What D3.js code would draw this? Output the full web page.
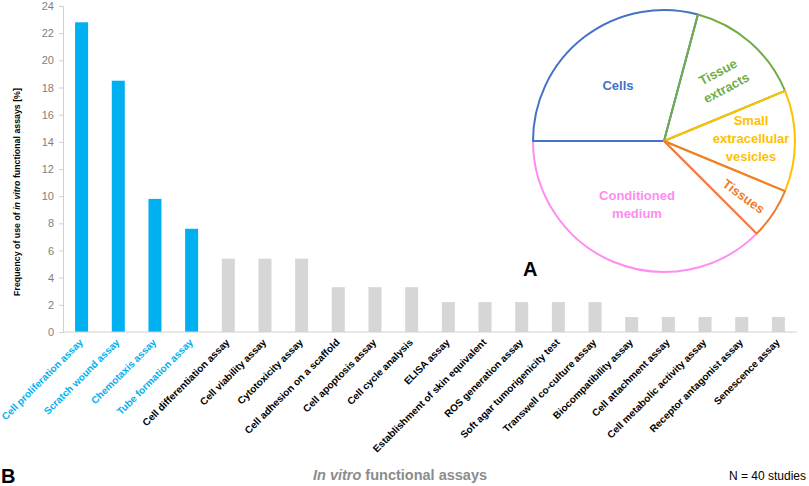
<!DOCTYPE html>
<html>
<head>
<meta charset="utf-8">
<script src="https://cdn.jsdelivr.net/npm/d3@7"></script>
<style>
  body { margin: 0; background: #fff; }
  svg { display: block; font-family: "Liberation Sans", Arial, sans-serif; }
</style>
</head>
<body>
<div id="chart"></div>
<script>
// bar chart data (percent of use)
var assays = ['Cell proliferation assay', 'Scratch wound assay', 'Chemotaxis assay', 'Tube formation assay',
  'Cell differentiation assay', 'Cell viability assay', 'Cytotoxicity assay', 'Cell adhesion on a scaffold',
  'Cell apoptosis assay', 'Cell cycle analysis', 'ELISA assay', 'Establishment of skin equivalent',
  'ROS generation assay', 'Soft agar tumorigenicity test', 'Transwell co-culture assay', 'Biocompatibility assay',
  'Cell attachment assay', 'Cell metabolic activity assay', 'Receptor antagonist assay', 'Senescence assay'];
var frequency = [22.8, 18.5, 9.8, 7.6, 5.4, 5.4, 5.4, 3.3, 3.3, 3.3, 2.2, 2.2, 2.2, 2.2, 2.2, 1.1, 1.1, 1.1, 1.1, 1.1];
var highlighted = 4; // first n assays in blue
var yTicks = [0, 2, 4, 6, 8, 10, 12, 14, 16, 18, 20, 22, 24];

// pie data (studies by source)
var sources = ['Cells', 'Tissue extracts', 'Small extracellular vesicles', 'Tissues', 'Conditioned medium'];
var sourceCounts = [14, 7, 6, 3, 18];
var sourceColors = ['#4472C4', '#70AD47', '#FFC000', '#ED7D31', '#FF8CF2'];

var width = 809, height = 486;
var blue = '#00B0F0', grey = '#D6D6D6';

var svg = d3.select('#chart').append('svg')
  .attr('width', width)
  .attr('height', height);

var x = d3.scaleBand()
  .domain(assays)
  .range([63, 797])
  .paddingInner(0.645)
  .paddingOuter(0.33);

var y = d3.scaleLinear()
  .domain([0, 24])
  .range([332, 6]);

// y axis
var yAxis = svg.append('g')
  .attr('transform', 'translate(63,0)')
  .call(d3.axisLeft(y).tickValues(yTicks).tickSize(4).tickPadding(5));
yAxis.select('.domain').attr('stroke', '#d0d0d0');
yAxis.selectAll('.tick line').attr('stroke', '#d0d0d0');
yAxis.selectAll('.tick text')
  .attr('fill', '#7f7f7f')
  .style('font-size', '11px')
  .style('font-family', '"Liberation Sans", Arial, sans-serif');

// bars
svg.selectAll('rect.bar')
  .data(frequency)
  .enter()
  .append('rect')
  .attr('class', 'bar')
  .attr('x', function (d, i) { return x(assays[i]); })
  .attr('y', function (d) { return y(d); })
  .attr('width', x.bandwidth())
  .attr('height', function (d) { return y(0) - y(d); })
  .style('fill', function (d, i) { return i < highlighted ? blue : grey; });

// x axis line
svg.append('line')
  .attr('x1', 63).attr('x2', 797)
  .attr('y1', y(0)).attr('y2', y(0))
  .attr('stroke', '#d0d0d0');

// x labels, rotated
svg.selectAll('text.xlab')
  .data(assays)
  .enter()
  .append('text')
  .attr('class', 'xlab')
  .attr('transform', function (d) {
    return 'translate(' + (x(d) + x.bandwidth() / 2 + 2) + ',343) rotate(-45)';
  })
  .attr('text-anchor', 'end')
  .style('font-size', '10px')
  .style('font-weight', 'bold')
  .style('fill', function (d, i) { return i < highlighted ? blue : '#000'; })
  .text(function (d) { return d; });

// y title
var yTitle = svg.append('text')
  .attr('transform', 'translate(20,192) rotate(-90)')
  .attr('text-anchor', 'middle')
  .style('font-size', '8.8px')
  .style('font-weight', 'bold');
yTitle.append('tspan').text('Frequency of use of ');
yTitle.append('tspan').style('font-style', 'italic').text('in vitro');
yTitle.append('tspan').text(' functional assays [%]');

// x title
var xTitle = svg.append('text')
  .attr('x', 400).attr('y', 480)
  .attr('text-anchor', 'middle')
  .style('font-size', '14.5px')
  .style('font-weight', 'bold')
  .style('fill', '#8c8c8c');
xTitle.append('tspan').style('font-style', 'italic').text('In vitro');
xTitle.append('tspan').text(' functional assays');

svg.append('text')
  .attr('x', 806).attr('y', 480)
  .attr('text-anchor', 'end')
  .style('font-size', '12px')
  .text('N = 40 studies');

svg.append('text')
  .attr('x', 1).attr('y', 483)
  .style('font-size', '20px')
  .style('font-weight', 'bold')
  .text('B');

// pie
var cx = 664, cy = 141, r = 131;
var pie = d3.pie().sort(null)
  .startAngle(-Math.PI / 2)
  .endAngle(3 * Math.PI / 2);
var arcs = pie(sourceCounts);
var arc = d3.arc().innerRadius(0).outerRadius(r);

// conditioned medium drawn first so neighbours' borders sit on top
var drawOrder = [4, 0, 1, 2, 3];
var pieG = svg.append('g').attr('transform', 'translate(' + cx + ',' + cy + ')');
pieG.selectAll('path')
  .data(drawOrder.map(function (i) { return arcs[i]; }))
  .enter()
  .append('path')
  .attr('d', arc)
  .style('fill', 'none')
  .style('stroke', function (d) { return sourceColors[d.index]; })
  .style('stroke-width', 2)
  .style('stroke-linejoin', 'round');

// pie labels
var pieLabels = [
  { i: 0, x: 618, y: 90, rot: 0, lines: ['Cells'] },
  { i: 1, x: 720, y: 76, rot: -28, lines: ['Tissue', 'extracts'] },
  { i: 2, x: 751, y: 125, rot: 0, lines: ['Small', 'extracellular', 'vesicles'] },
  { i: 3, x: 741, y: 200, rot: 36, lines: ['Tissues'] },
  { i: 4, x: 637, y: 200, rot: 0, lines: ['Conditioned', 'medium'] }
];
pieLabels.forEach(function (p) {
  var t = svg.append('text')
    .attr('transform', 'translate(' + p.x + ',' + p.y + ') rotate(' + p.rot + ')')
    .attr('text-anchor', 'middle')
    .style('font-size', '13px')
    .style('font-weight', 'bold')
    .style('fill', sourceColors[p.i]);
  p.lines.forEach(function (l, k) {
    t.append('tspan').attr('x', 0).attr('dy', k === 0 ? 0 : 18).text(l);
  });
});

svg.append('text')
  .attr('x', 523).attr('y', 276)
  .style('font-size', '20px')
  .style('font-weight', 'bold')
  .text('A');
</script>
</body>
</html>
